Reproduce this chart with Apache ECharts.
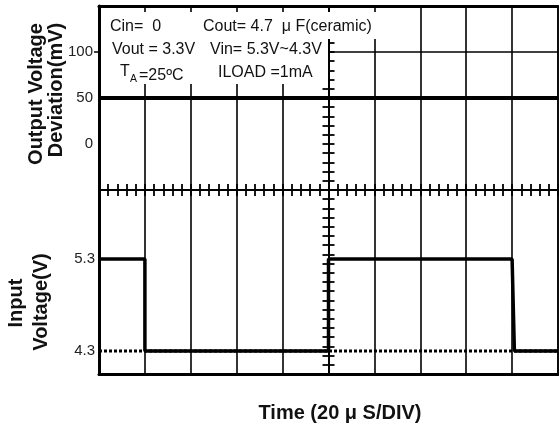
<!DOCTYPE html>
<html>
<head>
    <meta charset="utf-8">
    <title>Line transient response</title>
    <script src="https://cdn.jsdelivr.net/npm/echarts@6.0.0/dist/echarts.min.js"></script>
    <style>
        html, body { margin: 0; padding: 0; background: #fff; }
        #chart { width: 559px; height: 435px; }
    </style>
</head>
<body>
    <div id="chart"></div>
    <script>
        // time in us, 20 us per division
        var timeRange = [0, 200];
        // output deviation (mV) : flat trace
        var outputTrace = [[0, 50], [200, 50]];
        // input voltage step 5.3V -> 4.3V -> 5.3V -> 4.3V
        var inputTrace = [[0, 5.3], [20, 5.3], [20, 4.3], [100, 4.3], [100, 5.3], [180, 5.3], [181, 4.3], [200, 4.3]];
        var inputLevelLow = [[0, 4.3], [200, 4.3]];
        // tick labels
        var outputLabels = [0, 50, 100];
        var inputLabels = [4.3, 5.3];

        var FONT = 'Liberation Sans, Arial, sans-serif';
        var black = '#000';

        var chart = echarts.init(document.getElementById('chart'));

        // centre cross with minor ticks on both sides
        function centerAxis(dim, inside) {
            return {
                type: 'value',
                position: dim === 'x' ? 'bottom' : 'left',
                min: dim === 'x' ? -50 : -20,
                max: dim === 'x' ? 50 : 20,
                interval: dim === 'x' ? 2 : 1,
                axisLine: { show: true, onZero: true, onZeroAxisIndex: 2, lineStyle: { color: black, width: 2 } },
                axisTick: { show: true, inside: inside, length: 6, lineStyle: { color: black, width: 1.8 } },
                axisLabel: { show: false },
                splitLine: { show: false }
            };
        }

        function note(x, y, text, size) {
            return { type: 'text', z: 101, x: x, y: y, style: { text: text, font: (size || 16) + 'px ' + FONT, fill: '#111', verticalAlign: 'middle' } };
        }

        function title(x, y, text, rotated) {
            return {
                type: 'text', z: 101, x: x, y: y, rotation: rotated ? Math.PI / 2 : 0,
                style: { text: text, font: 'bold 20px ' + FONT, fill: '#111', align: 'center', verticalAlign: 'middle' }
            };
        }

        chart.setOption({
            animation: false,
            grid: { left: 99, top: 6, right: 1, bottom: 61, show: true, borderColor: black, borderWidth: 1.5 },
            xAxis: [
                {
                    type: 'value', position: 'bottom', min: timeRange[0], max: timeRange[1], interval: 20,
                    axisLine: { show: true, onZero: false, lineStyle: { color: black, width: 3 } },
                    axisTick: { show: false }, axisLabel: { show: false },
                    splitLine: { show: true, lineStyle: { color: black, width: 1.6 } }
                },
                {
                    type: 'value', position: 'top', min: timeRange[0], max: timeRange[1],
                    axisLine: { show: true, onZero: false, lineStyle: { color: black, width: 3 } },
                    axisTick: { show: false }, axisLabel: { show: false }, splitLine: { show: false }
                },
                centerAxis('x', false),
                centerAxis('x', true)
            ],
            yAxis: [
                {
                    type: 'value', position: 'left', min: -250, max: 150, interval: 50,
                    axisLine: { show: true, onZero: false, lineStyle: { color: black, width: 3 } },
                    axisTick: { show: true, customValues: [100], length: 5, lineStyle: { color: black, width: 1.5 } },
                    axisLabel: { customValues: outputLabels, color: '#222', fontSize: 15, fontFamily: FONT, margin: 6 },
                    splitLine: { show: true, lineStyle: { color: black, width: 1.6 } }
                },
                {
                    type: 'value', position: 'left', min: 4.05, max: 8.05,
                    axisLine: { show: false }, axisTick: { show: false },
                    axisLabel: { customValues: inputLabels, color: '#222', fontSize: 15, fontFamily: FONT, margin: 4 },
                    splitLine: { show: false }
                },
                centerAxis('y', false),
                centerAxis('y', true)
            ],
            series: [
                {
                    type: 'line', xAxisIndex: 0, yAxisIndex: 0, data: outputTrace,
                    showSymbol: false, lineStyle: { color: black, width: 4 }, z: 5
                },
                {
                    type: 'line', xAxisIndex: 0, yAxisIndex: 1, data: inputTrace,
                    showSymbol: false, lineStyle: { color: black, width: 3.5 }, z: 5
                },
                {
                    type: 'line', xAxisIndex: 0, yAxisIndex: 1, data: inputLevelLow,
                    showSymbol: false, lineStyle: { color: black, width: 3, type: [3, 2] }, z: 6
                }
            ],
            graphic: [
                { type: 'rect', z: 100, shape: { x: 101, y: 12, width: 227, height: 72 }, style: { fill: '#fff' } },
                { type: 'rect', z: 100, shape: { x: 101, y: 12, width: 276, height: 27 }, style: { fill: '#fff' } },
                note(110, 27, 'Cin=  0'),
                note(203, 27, 'Cout= 4.7  \u03bc F(ceramic)'),
                note(112, 50, 'Vout = 3.3V'),
                note(210, 50, 'Vin= 5.3V~4.3V'),
                note(120, 72, 'T'),
                note(130, 79, 'A', 10.5),
                note(139, 76, '=25\u00baC'),
                note(218, 73, 'ILOAD =1mA'),
                title(36, 94, 'Output Voltage', true),
                title(56, 90, 'Deviation(mV)', true),
                title(16, 303, 'Input', true),
                title(41, 302, 'Voltage(V)', true),
                title(340, 413, 'Time (20 \u03bc S/DIV)', false)
            ]
        });
    </script>
</body>
</html>
